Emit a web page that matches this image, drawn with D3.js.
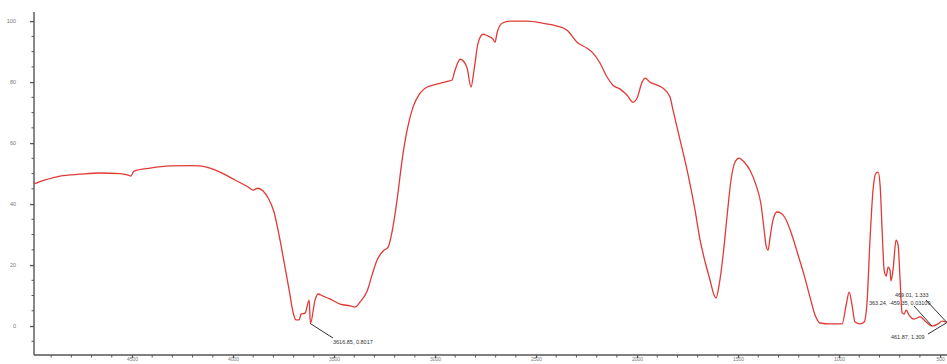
<!DOCTYPE html>
<html>
<head>
<meta charset="utf-8">
<script src="https://cdn.jsdelivr.net/npm/d3@7"></script>
<style>
  html, body { margin: 0; padding: 0; background: #fff; }
  svg { display: block; }
  text { font-family: "Liberation Sans", Arial, sans-serif; }
</style>
</head>
<body>
<svg id="chart" width="947" height="364"></svg>
<script>
// FTIR transmittance spectrum: wavenumber (cm-1) vs %T
const wavenumber = [
  4985, 4930, 4856, 4757, 4658, 4559, 4519, 4505, 4490, 4410, 4312, 4212, 4163, 4114, 4064,
  3990, 3925, 3901, 3876, 3851, 3826, 3797, 3772, 3747, 3722, 3703, 3688, 3673, 3663, 3643,
  3623, 3616.85, 3594, 3579, 3554, 3520, 3470, 3420, 3396, 3371, 3336, 3312, 3287, 3257, 3232,
  3213, 3188, 3163, 3138, 3109, 3074, 3039, 3010, 2975, 2935, 2916, 2901, 2876, 2856, 2841,
  2822, 2807, 2787, 2762, 2737, 2713, 2703, 2693, 2668, 2629, 2544, 2465, 2396, 2346, 2297,
  2247, 2218, 2183, 2148, 2119, 2084, 2049, 2020, 2000, 1975, 1960, 1936, 1901, 1871, 1837,
  1822, 1787, 1747, 1713, 1688, 1663, 1639, 1619, 1609, 1594, 1574, 1554, 1535, 1515, 1495,
  1470, 1441, 1411, 1386, 1371, 1361, 1351, 1342, 1327, 1307, 1287, 1262, 1233, 1203, 1173,
  1144, 1119, 1094, 1045, 985, 965, 950, 936, 921, 896, 876, 861, 847, 832, 817,
  807, 797, 787, 777, 767, 757, 748, 743, 733, 718, 708, 698, 688, 678, 668,
  654, 629, 599, 569, 540, 510, 490, 469.01, 461.87
];
const transmittance = [
  46.6, 47.9, 49.2, 49.8, 50.2, 50.0, 49.5, 49.2, 50.8, 51.8, 52.5, 52.6, 52.5, 51.8, 50.5,
  47.9, 45.6, 44.6, 45.2, 44.3, 42.0, 37.4, 29.8, 21.0, 11.8, 4.6, 2.0, 2.0, 3.9, 4.3,
  8.5, 0.8017, 8.5, 10.5, 9.8, 8.9, 7.2, 6.6, 6.2, 7.9, 11.5, 16.7, 21.6, 24.6, 25.9,
  30.8, 41.3, 54.4, 64.3, 71.8, 76.4, 78.4, 79.0, 79.6, 80.3, 80.7, 83.9, 87.5, 86.6, 84.6,
  78.4, 83.9, 92.8, 95.7, 95.1, 94.1, 93.1, 96.1, 99.3, 100.0, 100.0, 99.3, 98.4, 97.0, 93.1,
  91.1, 89.5, 86.2, 81.6, 79.0, 77.7, 75.7, 73.4, 74.8, 80.0, 81.3, 80.0, 79.0, 78.0, 75.1,
  70.8, 61.0, 49.5, 38.0, 28.2, 21.0, 15.1, 10.2, 9.2, 13.4, 23.3, 36.4, 47.9, 53.8, 55.1,
  53.8, 51.1, 46.2, 39.7, 31.5, 26.2, 24.9, 28.9, 34.8, 37.4, 37.0, 34.8, 29.8, 23.3, 16.7,
  9.5, 3.6, 1.0, 0.7, 0.7, 6.9, 11.1, 6.9, 1.3, 0.7, 1.3, 8.5, 28.2, 44.6, 50.2,
  50.5, 46.2, 31.5, 18.4, 16.4, 19.3, 18.4, 14.8, 18.4, 28.2, 26.6, 15.1, 4.3, 3.9, 5.2,
  3.6, 2.3, 3.0, 1.3, 0.0, 0.7, 1.6, 1.333, 1.309
];

const xTicks = [4500, 4000, 3500, 3000, 2500, 2000, 1500, 1000, 500];
const yTicks = [0, 20, 40, 60, 80, 100];

// Peak-pick annotations
const peakLabels = [
  { text: "3616.85, 0.8017", wn: 3616.85, t: 0.8017 },
  { text: "469.01, 1.333", wn: 469.01, t: 1.333 },
  { text: "363.24, -459.35, 0.03109", wn: 540, t: 0.0 },
  { text: "461.87, 1.309", wn: 461.87, t: 1.309 }
];

const data = wavenumber.map((w, i) => ({ w, t: transmittance[i] }));

const svg = d3.select("#chart");
const x = d3.scaleLinear().domain([4985, 451]).range([34, 950]);
const y = d3.scaleLinear().domain([-9.5, 103]).range([355, 12]);

const axisColor = "#555";
const labelColor = "#777";

// Left axis
const yAxis = d3.axisLeft(y).tickValues(yTicks).tickSize(4).tickPadding(14).tickFormat(d3.format("d"));
const gy = svg.append("g").attr("transform", "translate(34,0)").call(yAxis);
gy.select(".domain").attr("d", `M0,${y(103)}V${y(-9.5)}`).attr("stroke", axisColor).attr("stroke-width", 1.4);
gy.selectAll(".tick line").attr("stroke", axisColor).attr("stroke-width", 1.3);
gy.selectAll(".tick text").attr("fill", labelColor).attr("font-size", 5.5);
// Minor y ticks
const yMinor = d3.range(-5, 103, 5).filter(v => v % 20 !== 0);
gy.selectAll(".minor").data(yMinor).join("line")
  .attr("x1", -2.5).attr("x2", 0).attr("y1", d => y(d)).attr("y2", d => y(d))
  .attr("stroke", axisColor).attr("stroke-width", 1);

// Bottom axis
const xAxis = d3.axisBottom(x).tickValues(xTicks).tickSize(3).tickPadding(0).tickFormat(d3.format("d"));
const gx = svg.append("g").attr("transform", "translate(0,355)").call(xAxis);
gx.select(".domain").attr("d", `M34,0H950`).attr("stroke", axisColor).attr("stroke-width", 1.4);
gx.selectAll(".tick line").attr("stroke", axisColor).attr("stroke-width", 1.3);
gx.selectAll(".tick text").attr("fill", labelColor).attr("font-size", 5).attr("dy", "0.6em");
const xMinor = d3.range(500, 4985, 100).filter(v => v % 500 !== 0);
gx.selectAll(".minor").data(xMinor).join("line")
  .attr("x1", d => x(d)).attr("x2", d => x(d)).attr("y1", 0).attr("y2", 2.5)
  .attr("stroke", axisColor).attr("stroke-width", 1);

// Spectrum trace
const line = d3.line().x(d => x(d.w)).y(d => y(d.t)).curve(d3.curveMonotoneX);
svg.append("path").datum(data)
  .attr("d", line)
  .attr("fill", "none")
  .attr("stroke", "#e03a36")
  .attr("stroke-width", 1.3)
  .attr("stroke-linejoin", "round");

// Annotation leaders and labels
const leaders = [
  { p: peakLabels[0], tx: 333, ty: 338, lx: 333, ly: 344, anchor: "start" },
  { p: peakLabels[1], tx: 926, ty: 300, lx: 895, ly: 297, anchor: "start" },
  { p: peakLabels[2], tx: 914, ty: 306, lx: 869, ly: 305, anchor: "start" },
  { p: peakLabels[3], tx: 928, ty: 334, lx: 891, ly: 339, anchor: "start" }
];
svg.selectAll(".leader").data(leaders).join("line")
  .attr("x1", d => x(d.p.wn)).attr("y1", d => y(d.p.t))
  .attr("x2", d => d.tx).attr("y2", d => d.ty)
  .attr("stroke", "#333").attr("stroke-width", 1);
svg.selectAll(".plabel").data(leaders).join("text")
  .attr("x", d => d.lx).attr("y", d => d.ly)
  .attr("text-anchor", d => d.anchor)
  .attr("font-size", 5.5).attr("fill", "#333")
  .text(d => d.p.text);
</script>
</body>
</html>
